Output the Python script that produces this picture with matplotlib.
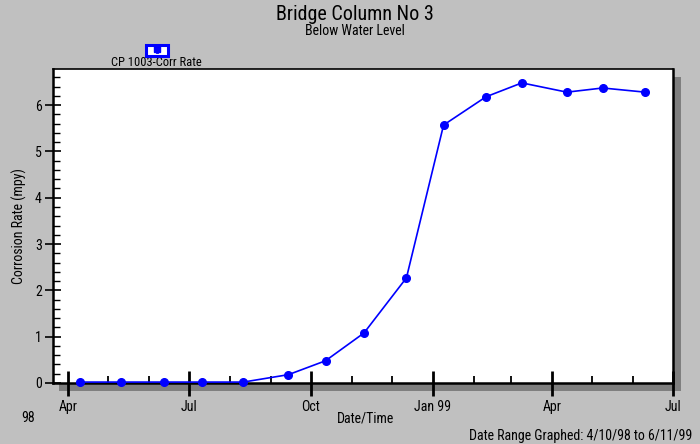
import matplotlib
matplotlib.use("Agg")
import matplotlib.pyplot as plt
import matplotlib.dates as mdates
from matplotlib.patches import Rectangle
from matplotlib.lines import Line2D
from matplotlib import font_manager
import pandas as pd
from matplotlib.ticker import MultipleLocator

available = {f.name for f in font_manager.fontManager.ttflist}
narrow = [n for n in ['Liberation Sans Narrow', 'Arial Narrow', 'Roboto Condensed',
                      'Open Sans Condensed', 'Noto Sans Condensed'] if n in available]
plt.rcParams['font.family'] = narrow + ['Liberation Sans', 'DejaVu Sans']

# Data
dates = ["1998-04-10", "1998-05-11", "1998-06-12", "1998-07-11", "1998-08-11",
         "1998-09-14", "1998-10-12", "1998-11-10", "1998-12-12", "1999-01-09",
         "1999-02-10", "1999-03-09", "1999-04-12", "1999-05-09", "1999-06-10"]
corr_rate = [0.02, 0.02, 0.02, 0.02, 0.02, 0.18, 0.48, 1.08, 2.27, 5.57,
             6.18, 6.48, 6.28, 6.37, 6.28]
series_name = "CP 1003-Corr Rate"
x_tick_labels = ["Apr", "Jul", "Oct", "Jan 99", "Apr", "Jul"]

x = pd.to_datetime(dates)

W, H = 700, 444
fig = plt.figure(figsize=(7.0, 4.44), dpi=100)
fig.patch.set_facecolor('#c0c0c0')

ax_l, ax_r, ax_t, ax_b = 53, 673, 69, 383
ax = fig.add_axes([ax_l / W, 1 - ax_b / H, (ax_r - ax_l) / W, (ax_b - ax_t) / H])
ax.set_facecolor('white')
ax.set_zorder(2)

# drop shadow
sh = 8
fig.patches.append(Rectangle(((ax_l + 6) / W, 1 - (ax_b + sh) / H),
                             (ax_r - ax_l + 2) / W, (ax_b - ax_t) / H,
                             transform=fig.transFigure, facecolor='#7f7f7f',
                             edgecolor='none', zorder=1))

ax.plot(x, corr_rate, color='#0000ff', lw=1.2, marker='o', ms=5.5,
        markerfacecolor='#0000ff', markeredgecolor='#0000ff', zorder=3, clip_on=False)

ax.set_xlim(pd.Timestamp("1998-03-20 12:00"), pd.Timestamp("1999-07-01"))
ax.set_ylim(0, 6.78)

ax.xaxis.set_major_locator(mdates.MonthLocator(bymonth=[1, 4, 7, 10]))
ax.xaxis.set_minor_locator(mdates.MonthLocator())
major_ticks = ax.get_xticks()
ax.set_xticks(major_ticks)
ax.set_xticklabels(x_tick_labels, fontsize=10)
ax.tick_params(axis='x', which='major', direction='inout', length=18, width=2, pad=3)
ax.tick_params(axis='x', which='minor', direction='in', length=5, width=1.3)

ax.yaxis.set_major_locator(MultipleLocator(1))
ax.yaxis.set_minor_locator(MultipleLocator(0.2))
ax.tick_params(axis='y', which='major', direction='inout', length=12, width=1.2, labelsize=10, pad=2)
ax.tick_params(axis='y', which='minor', direction='in', length=5, width=1.0)

for s in ['left', 'bottom', 'right']:
    ax.spines[s].set_linewidth(1.8)
ax.spines['top'].set_linewidth(1.2)

ax.set_ylabel("Corrosion Rate (mpy)", fontsize=10, labelpad=6)

fig.text(355 / W, 1 - 14 / H, "Bridge Column No 3", ha='center', va='center', fontsize=14.5)
fig.text(355 / W, 1 - 31 / H, "Below Water Level", ha='center', va='center', fontsize=10)
fig.text(365 / W, 1 - 418 / H, "Date/Time", ha='center', va='center', fontsize=10)
fig.text(28 / W, 1 - 418 / H, "98", ha='center', va='center', fontsize=10)
fig.text(692 / W, 1 - 436 / H, "Date Range Graphed: 4/10/98 to 6/11/99", ha='right', va='center', fontsize=10)

# legend
fig.patches.append(Rectangle((146 / W, 1 - 56 / H), 22 / W, 11 / H, transform=fig.transFigure,
                             facecolor='white', edgecolor='#0000ff', lw=2.2, zorder=5))
fig.lines.append(Line2D([157 / W], [1 - 49 / H], transform=fig.transFigure, marker='s',
                        ms=4, color='#0000ff', zorder=6))
fig.lines.append(Line2D([157 / W, 157 / W], [1 - 47 / H, 1 - 52 / H], transform=fig.transFigure,
                        color='#0000ff', lw=2, zorder=6))
fig.text(156 / W, 1 - 63 / H, series_name, ha='center', va='center', fontsize=9)

fig.savefig("out.png", dpi=100, facecolor=fig.get_facecolor())
